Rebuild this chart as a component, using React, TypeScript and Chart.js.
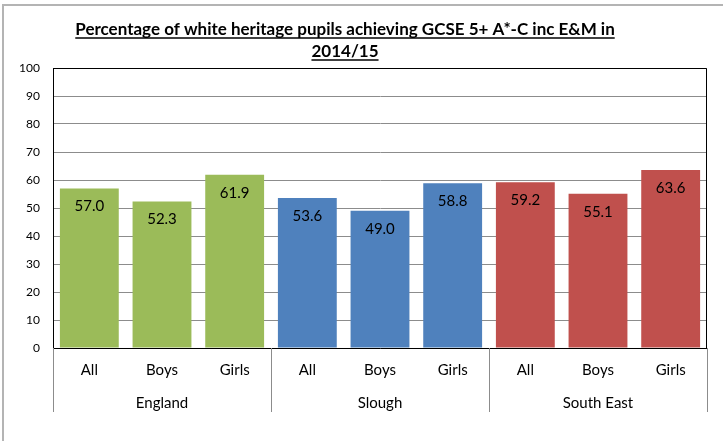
import React, { useEffect, useRef } from 'react';
import { Chart, registerables } from 'chart.js';

Chart.register(...registerables);

const subLabels = ['All', 'Boys', 'Girls', 'All', 'Boys', 'Girls', 'All', 'Boys', 'Girls'];
const groupLabels = ['England', 'Slough', 'South East'];
const groupSize = 3;
const values = [57.0, 52.3, 61.9, 53.6, 49.0, 58.8, 59.2, 55.1, 63.6];
const groupColors = ['#9BBB59', '#4F81BD', '#C0504D'];
const titleLines = [
  'Percentage of white heritage pupils achieving GCSE 5+ A*-C inc E&M in',
  '2014/15',
];
const yMin = 0;
const yMax = 100;
const yStep = 10;

const FONT = 'Lato, "Open Sans", sans-serif';

const overlayPlugin = {
  id: 'overlay',
  afterDatasetsDraw(chart: any) {
    const { ctx, chartArea: a } = chart;
    const meta = chart.getDatasetMeta(0);
    ctx.save();
    ctx.font = `15px ${FONT}`;
    ctx.fillStyle = '#000';
    ctx.textAlign = 'center';
    ctx.textBaseline = 'middle';
    meta.data.forEach((el: any, i: number) => {
      ctx.fillText(values[i].toFixed(1), el.x, el.y + 18);
    });
    ctx.strokeStyle = '#000';
    ctx.lineWidth = 1;
    ctx.beginPath();
    ctx.moveTo(a.left + 0.5, a.bottom);
    ctx.lineTo(a.left + 0.5, a.top + 0.5);
    ctx.lineTo(a.right - 0.5, a.top + 0.5);
    ctx.lineTo(a.right - 0.5, a.bottom);
    ctx.stroke();
    ctx.restore();
  },
  afterDraw(chart: any) {
    const { ctx, chartArea: a, scales } = chart;
    const x = scales.x;
    ctx.save();
    // group separators
    const xs: number[] = [a.left];
    for (let g = 1; g < groupLabels.length; g++) {
      xs.push((x.getPixelForValue(g * groupSize - 1) + x.getPixelForValue(g * groupSize)) / 2);
    }
    xs.push(a.right);
    ctx.strokeStyle = '#8c8c8c';
    ctx.lineWidth = 1;
    xs.forEach((px) => {
      const p = Math.round(px) + 0.5;
      ctx.beginPath();
      ctx.moveTo(p, a.bottom);
      ctx.lineTo(p, a.bottom + 64);
      ctx.stroke();
    });
    // group labels
    ctx.font = `15px ${FONT}`;
    ctx.fillStyle = '#000';
    ctx.textAlign = 'center';
    ctx.textBaseline = 'middle';
    groupLabels.forEach((lbl, g) => {
      const cx = x.getPixelForValue(g * groupSize + (groupSize - 1) / 2);
      ctx.fillText(lbl, cx, a.bottom + 55);
    });
    // title
    ctx.font = `bold 17px ${FONT}`;
    ctx.textBaseline = 'alphabetic';
    const cx = 345;
    titleLines.forEach((line, i) => {
      const by = 35 + i * 22;
      ctx.fillText(line, cx, by);
      const w = ctx.measureText(line).width;
      ctx.beginPath();
      ctx.lineWidth = 1.5;
      ctx.strokeStyle = '#000';
      ctx.moveTo(cx - w / 2, by + 3);
      ctx.lineTo(cx + w / 2, by + 3);
      ctx.stroke();
    });
    ctx.restore();
  },
};

export default function App() {
  const ref = useRef<HTMLCanvasElement | null>(null);

  useEffect(() => {
    if (!ref.current) return;
    const colors = values.map((_, i) => groupColors[Math.floor(i / groupSize)]);
    const chart = new Chart(ref.current, {
      type: 'bar',
      data: {
        labels: subLabels,
        datasets: [
          {
            data: values,
            backgroundColor: colors,
            borderWidth: 0,
            categoryPercentage: 1,
            barPercentage: 0.81,
          },
        ],
      },
      options: {
        animation: false,
        responsive: false,
        maintainAspectRatio: false,
        layout: { padding: { left: 0, right: 16, top: 68, bottom: 29 } },
        plugins: {
          legend: { display: false },
          title: { display: false },
          tooltip: { enabled: false },
        },
        scales: {
          x: {
            grid: { display: false, drawTicks: false },
            border: { display: true, color: '#000', width: 1 },
            ticks: {
              color: '#000',
              font: { family: FONT, size: 15 },
              padding: 13,
              maxRotation: 0,
              autoSkip: false,
            },
            afterFit(scale: any) {
              scale.height = 64;
            },
          },
          y: {
            min: yMin,
            max: yMax,
            grid: {
              color: '#8c8c8c',
              drawTicks: false,
            },
            border: { display: true, color: '#000', width: 1 },
            ticks: {
              stepSize: yStep,
              color: '#000',
              font: { family: FONT, size: 12 },
              padding: 13,
            },
            afterFit(scale: any) {
              scale.width = 53;
            },
          },
        },
      },
      plugins: [overlayPlugin],
    });
    return () => chart.destroy();
  }, []);

  return (
    <div style={{ position: 'fixed', left: 0, top: 0, width: 723, height: 441, background: '#fff', overflow: 'hidden' }}>
      <div
        style={{
          position: 'absolute',
          left: 2,
          top: 4,
          width: 760,
          height: 500,
          borderLeft: '2px solid #b4b4b4',
          borderTop: '2px solid #b4b4b4',
        }}
      />
      <canvas ref={ref} width={723} height={441} style={{ position: 'absolute', left: 0, top: 0 }} />
    </div>
  );
}
